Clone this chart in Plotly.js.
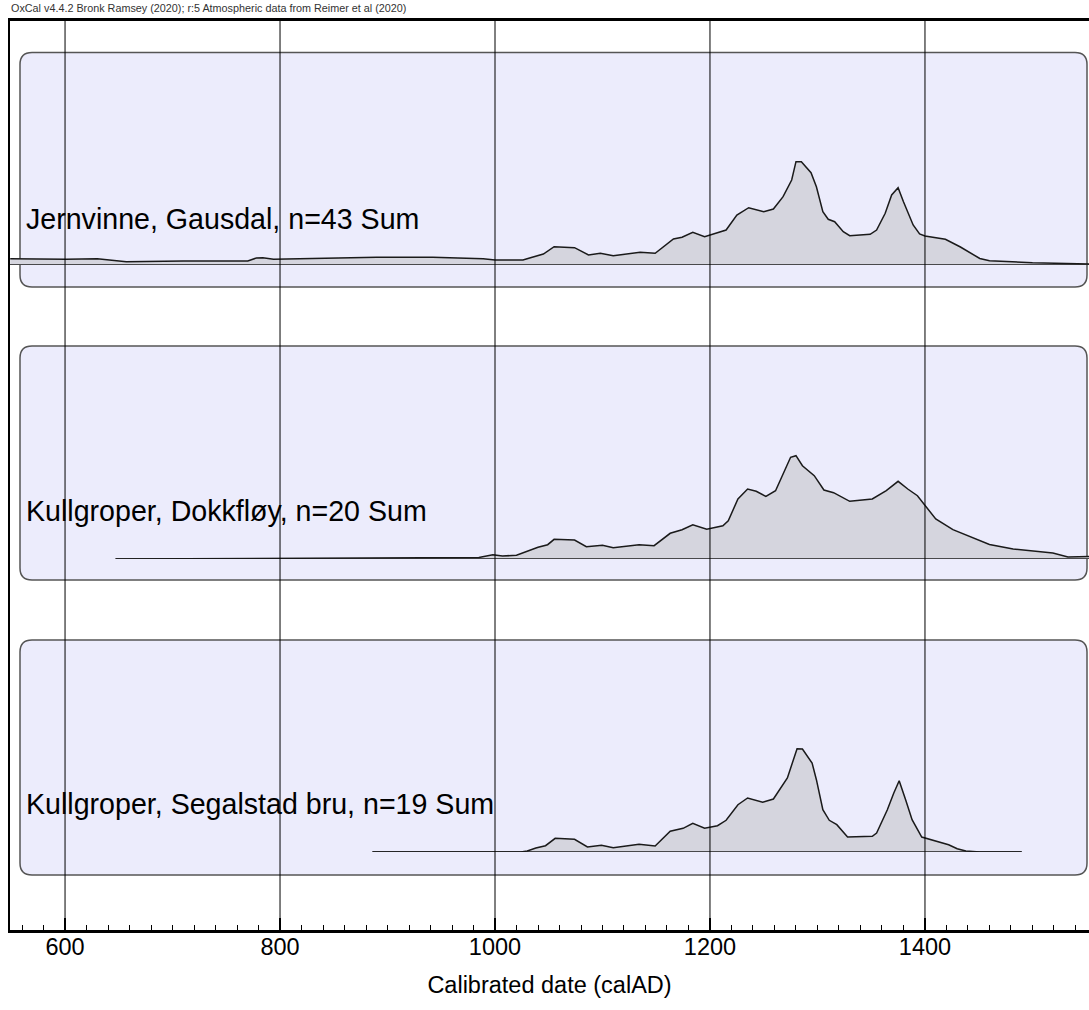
<!DOCTYPE html>
<html>
<head>
<meta charset="utf-8">
<script src="https://cdn.plot.ly/plotly-3.0.1.min.js"></script>
<style>html,body{margin:0;padding:0;background:#fff}#chart{width:1089px;height:1010px}</style>
</head>
<body>
<div id="chart"></div>
<script>
// ---------- data ----------
const panelLabels = ["Jernvinne, Gausdal, n=43 Sum", "Kullgroper, Dokkfløy, n=20 Sum", "Kullgroper, Segalstad bru, n=19 Sum"];

const years1 = [549, 601, 630, 657, 710, 770, 778, 784, 794, 849, 890, 942, 989, 1000, 1026, 1033, 1045, 1055, 1074, 1087, 1098, 1110, 1135, 1149, 1166, 1174, 1184, 1195, 1203, 1215, 1225, 1236, 1250, 1259, 1268, 1276, 1280, 1285, 1294, 1299, 1305, 1310, 1316, 1324, 1330, 1349, 1355, 1363, 1369, 1375, 1380, 1389, 1395, 1400, 1419, 1433, 1451, 1460, 1500, 1553];
const sum1 = [6.3, 5.7, 6.3, 3.3, 4, 4, 7, 7.3, 5.7, 6.7, 7.7, 7.7, 6.3, 5, 5, 7.3, 11, 18.3, 17.3, 10, 11.7, 9.3, 12.7, 11.7, 26, 27.7, 32.7, 28.3, 30.7, 35, 50, 57.3, 53.3, 56, 68.3, 85, 103.3, 103.3, 92.3, 78.3, 53.3, 45.7, 43.3, 33.3, 29.3, 30.7, 35, 51.7, 70, 77.3, 63.3, 40, 31, 29, 25.7, 18, 6.5, 4.3, 2.3, 1];

const years2 = [647, 700, 800, 850, 900, 950, 985, 998, 1007, 1020, 1040, 1049, 1055, 1074, 1085, 1100, 1110, 1134, 1148, 1163, 1174, 1184, 1197, 1212, 1217, 1226, 1235, 1243, 1252, 1261, 1275, 1280, 1286, 1297, 1306, 1315, 1330, 1351, 1364, 1375, 1384, 1393, 1400, 1410, 1426, 1442, 1460, 1482, 1519, 1533, 1553];
const sum2 = [0, 0.2, 0.3, 0.5, 1, 1, 1.5, 4.3, 3, 3.7, 11.7, 14.3, 19.7, 19, 12.3, 13.7, 11.3, 14.3, 13.3, 25.7, 29.3, 34.3, 29.7, 33.3, 38.3, 60, 70, 67.7, 62.7, 68.3, 101.7, 103.3, 93.3, 83.3, 69, 66.3, 57.7, 60, 68.3, 77.7, 70, 63.3, 53.3, 40, 29.3, 22.3, 14.5, 10, 6, 2, 2.5];

const years3 = [886, 1000, 1024, 1030, 1038, 1047, 1056, 1074, 1086, 1099, 1110, 1134, 1149, 1163, 1175, 1184, 1195, 1207, 1215, 1226, 1235, 1249, 1259, 1272, 1281, 1286, 1295, 1299, 1305, 1311, 1318, 1328, 1351, 1355, 1365, 1371, 1376, 1382, 1388, 1397, 1405, 1415, 1422, 1430, 1438, 1451, 1490];
const sum3 = [0, 0, 0, 1, 4, 6.3, 13.7, 12.7, 5, 6.7, 4.3, 7.7, 6, 20.7, 23.7, 28.7, 23.7, 26.3, 31.7, 47.3, 54, 49.7, 53, 74, 103.3, 103, 89, 72.3, 42.3, 31.7, 27.3, 15, 15.7, 19, 42.3, 59, 71.3, 52.3, 32.3, 15, 12.3, 9, 7.3, 3.3, 1, 0, 0];

const baseStart = [548.8, 647, 886];
const baseEnd = [1552.6, 1552.6, 1490];

const tickVals = [600, 800, 1000, 1200, 1400];
const tickText = ["600", "800", "1000", "1200", "1400"];
const xTitle = "Calibrated date (calAD)";
const header = "OxCal v4.4.2 Bronk Ramsey (2020); r:5 Atmospheric data from Reimer et al (2020)";

// ---------- layout geometry (pixels) ----------
const W = 1089, H = 1010;
const PL = 10, PR = 1089, PT = 21, PB = 930;
const PW = PR - PL, PH = PB - PT;
const px2x = p => (p - PL) / PW;
const py2y = p => (PB - p) / PH;

const baselinePx = [265, 559, 852];
const boxPx = [[20, 52.5, 1087, 287], [20, 346, 1087, 580], [20, 640, 1087, 875]];
const labelPx = [219, 511, 804];
const panelHeightPx = 120;

const FONT = "Liberation Sans, Arial, Helvetica, sans-serif";

function roundedRect(x0p, y0p, x1p, y1p, r) {
  const x0 = px2x(x0p), x1 = px2x(x1p), yt = py2y(y0p), yb = py2y(y1p);
  const rx = r / PW, ry = r / PH;
  return `M ${x0 + rx},${yt} L ${x1 - rx},${yt} Q ${x1},${yt} ${x1},${yt - ry} ` +
    `L ${x1},${yb + ry} Q ${x1},${yb} ${x1 - rx},${yb} L ${x0 + rx},${yb} ` +
    `Q ${x0},${yb} ${x0},${yb + ry} L ${x0},${yt - ry} Q ${x0},${yt} ${x0 + rx},${yt} Z`;
}

const seriesX = [years1, years2, years3];
const seriesY = [sum1, sum2, sum3];
// invisible trace so the main x/y frame subplot exists
const traces = [{
  x: [baseStart[0]], y: [0], xaxis: "x", yaxis: "y", type: "scatter", mode: "markers",
  marker: {opacity: 0, size: 1}, hoverinfo: "skip"
}];
const layout = {
  width: W, height: H,
  margin: {l: PL, r: W - PR, t: PT, b: H - PB, pad: 0},
  paper_bgcolor: "#ffffff",
  plot_bgcolor: "rgba(0,0,0,0)",
  showlegend: false,
  font: {family: FONT, color: "#000"},
  xaxis: {
    anchor: "y",
    range: [548.8, 1552.6], showgrid: false, zeroline: false,
    showline: true, linecolor: "#000", linewidth: 3, mirror: true,
    tickmode: "array", tickvals: tickVals, ticktext: tickText,
    ticks: "inside", ticklen: 12, tickwidth: 2.5, tickcolor: "#000",
    tickfont: {family: FONT, size: 23.5, color: "#000"},
    ticklabelstandoff: -6,
    minor: {dtick: 20, tick0: 0, ticks: "inside", ticklen: 5, tickwidth: 1, tickcolor: "#000", showgrid: false},
    title: {text: xTitle, font: {family: FONT, size: 23.5, color: "#000"}, standoff: 18},
    fixedrange: true
  },
  yaxis: {
    anchor: "x",
    domain: [0, 1], range: [0, 1], showgrid: false, zeroline: false,
    showline: true, linecolor: "#000", linewidth: 2.5, mirror: false,
    showticklabels: false, ticks: "", fixedrange: true
  },
  shapes: [],
  annotations: []
};

for (let i = 0; i < 3; i++) {
  const yName = "y" + (i + 2);
  const axKey = "yaxis" + (i + 2);
  const d0 = py2y(baselinePx[i]);
  layout[axKey] = {
    domain: [d0, d0 + panelHeightPx / PH], range: [0, panelHeightPx],
    anchor: "free", position: 0, showgrid: false, zeroline: false, showline: false,
    showticklabels: false, ticks: "", fixedrange: true
  };
  traces.push({
    x: seriesX[i], y: seriesY[i], xaxis: "x", yaxis: yName,
    type: "scatter", mode: "lines", fill: "tozeroy",
    fillcolor: "#d5d5de", line: {color: "#1a1a1a", width: 1.5},
    hoverinfo: "skip"
  });
  traces.push({
    x: [baseStart[i], baseEnd[i]], y: [0, 0], xaxis: "x", yaxis: yName,
    type: "scatter", mode: "lines", line: {color: "#1a1a1a", width: 1.3},
    hoverinfo: "skip"
  });
  const b = boxPx[i];
  layout.shapes.push({
    type: "path", xref: "paper", yref: "paper", layer: "below",
    path: roundedRect(b[0], b[1], b[2], b[3], 12),
    fillcolor: "#ececfc", line: {color: "#555555", width: 1.5}
  });
  layout.annotations.push({
    xref: "paper", yref: "paper", x: px2x(24), y: py2y(labelPx[i]),
    xanchor: "left", yanchor: "middle", showarrow: false,
    text: panelLabels[i], font: {family: FONT, size: 28.6, color: "#000"}
  });
}

tickVals.forEach(v => {
  layout.shapes.push({
    type: "line", xref: "x", yref: "paper", x0: v, x1: v, y0: 0, y1: 1,
    layer: "above", line: {color: "#000", width: 1}
  });
});

layout.annotations.push({
  xref: "paper", yref: "paper", x: px2x(9), y: py2y(8),
  xanchor: "left", yanchor: "middle", showarrow: false,
  text: header, font: {family: FONT, size: 10.8, color: "#333"}
});

Plotly.newPlot("chart", traces, layout, {displayModeBar: false, staticPlot: true});
</script>
</body>
</html>
